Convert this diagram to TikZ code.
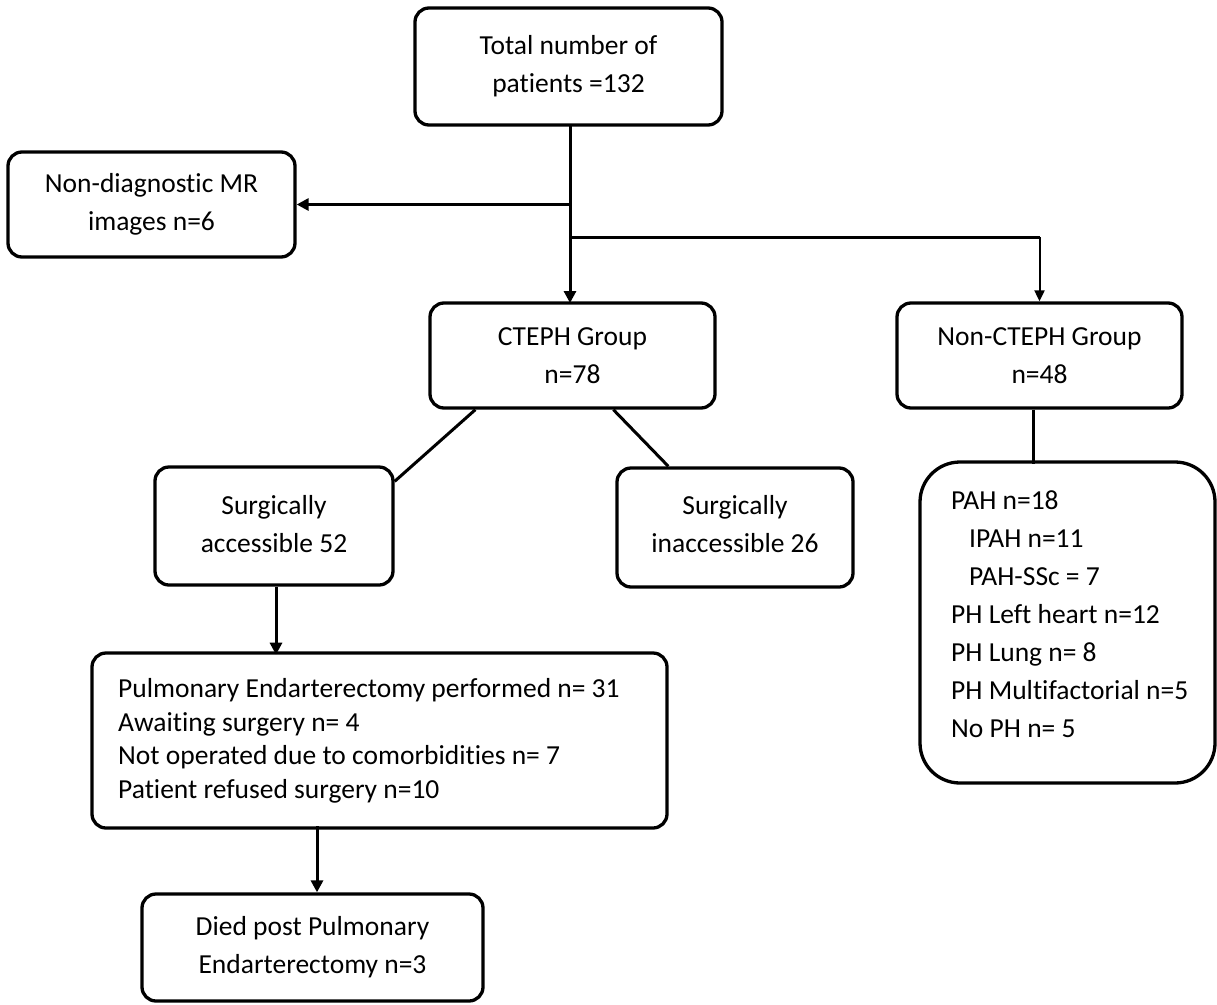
\documentclass[tikz,border=0pt]{standalone}
\usepackage{fontspec}
\setmainfont{Carlito}[Ligatures=NoCommon]
\usetikzlibrary{arrows.meta,calc}
\begin{document}
\begin{tikzpicture}[x=1pt,y=-1pt,
  box/.style={draw, line width=3.3pt, rounded corners=14pt, inner sep=0pt, align=center, font=\fontsize{27.5}{38}\selectfont},
  lbl/.style={inner sep=0pt, align=center, font=\fontsize{27.5}{38}\selectfont},
  conn/.style={line width=3pt},
  arr/.style={conn, -{Triangle[length=12pt,width=12pt]}},
  thinarr/.style={line width=2pt, -{Triangle[length=11pt,width=10pt]}},
  txt/.style={inner sep=0pt, align=left, anchor=north west}]
\useasboundingbox (0,0) rectangle (1217,1004);

\node[box, minimum width=307pt, minimum height=117pt] (total) at (568.5,66.5) {Total number of\\patients =132};
\node[box, minimum width=287pt, minimum height=105pt] (nondiag) at (151.5,204.5) {Non-diagnostic MR\\images n=6};
\node[box, minimum width=285pt, minimum height=105pt] (cteph) at (572.5,355.5) {CTEPH Group\\n=78};
\node[box, minimum width=285pt, minimum height=105pt] (noncteph) at (1039.5,355.5) {Non-CTEPH Group\\n=48};
\node[box, minimum width=238pt, minimum height=118pt] (acc) at (274,526) {};
\node[lbl] (acctxt) at (274,524) {Surgically\\accessible 52};
\node[box, minimum width=236pt, minimum height=119pt] (inacc) at (735,527.5) {};
\node[lbl] (inacctxt) at (735,524) {Surgically\\inaccessible 26};
\node[box, rounded corners=40pt, minimum width=295pt, minimum height=321pt] (pah) at (1067.5,622.5) {};
\node[txt, font=\fontsize{27.5}{38}\selectfont] (pahtxt) at (951,491) {PAH n=18\\\hspace*{18pt}IPAH n=11\\\hspace*{18pt}PAH-SSc = 7\\PH Left heart n=12\\PH Lung n= 8\\PH Multifactorial n=5\\No PH n= 5};
\node[box, minimum width=575pt, minimum height=175pt] (pulm) at (379.5,740.5) {};
\node[txt, font=\fontsize{27.5}{33.5}\selectfont] (pulmtxt) at (118,678.5) {Pulmonary Endarterectomy performed n= 31\\Awaiting surgery n= 4\\Not operated due to comorbidities n= 7\\Patient refused surgery n=10};
\node[box, minimum width=341pt, minimum height=107pt] (died) at (312.5,947.5) {Died post Pulmonary\\Endarterectomy n=3};

\coordinate (b1) at (570,204.5);
\coordinate (b2) at (570,237);
\coordinate (b3) at (1039.5,237);
\draw[arr] (570,125) -- (570,303);
\draw[arr] (b1) -- (nondiag.east);
\draw[conn] (b2) -- (b3);
\draw[thinarr] (b3) -- (noncteph.north);
\draw[conn] ($(cteph.south west)+(47,0)$) -- ($(acc.north east)+(0,16)$);
\draw[conn] ($(cteph.south west)+(185,0)$) -- ($(inacc.north west)+(53,0)$);
\draw[conn] ($(noncteph.south)+(-6,0)$) -- ($(noncteph.south)+(-6,54)$);
\draw[arr] ($(acc.south)+(2,0)$) -- ($(acc.south)+(2,68)$);
\draw[arr] ($(died.north)+(4.5,-66)$) -- ($(died.north)+(4.5,0)$);
\end{tikzpicture}
\end{document}
